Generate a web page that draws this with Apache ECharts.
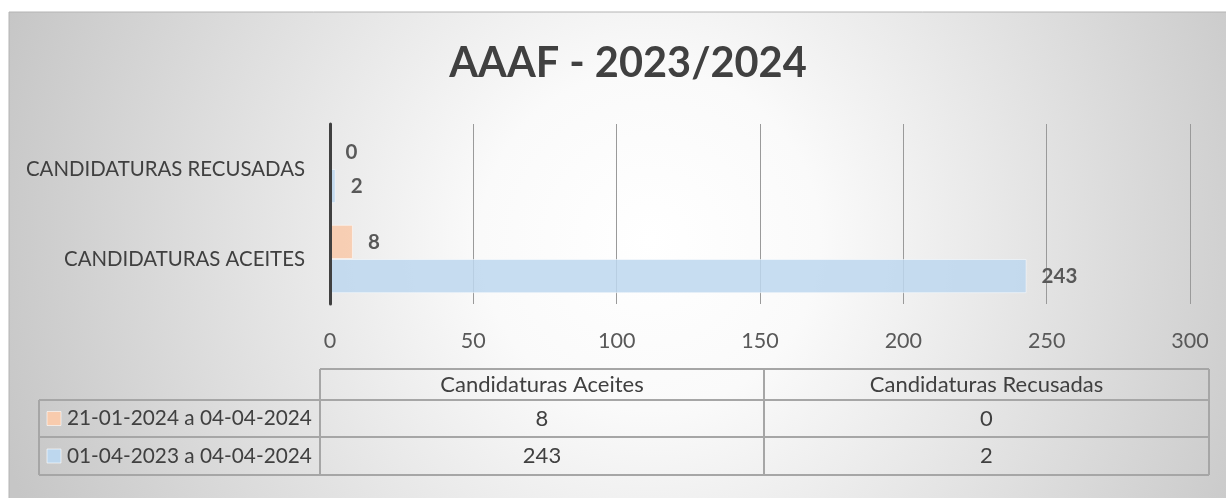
<!DOCTYPE html>
<html>
<head>
<meta charset="utf-8">
<title>AAAF - 2023/2024</title>
<script src="https://cdn.jsdelivr.net/npm/echarts@6/dist/echarts.min.js"></script>
<style>
  html, body { margin: 0; padding: 0; background: #fff; }
  #chart { width: 1226px; height: 498px; }
</style>
</head>
<body>
<div id="chart"></div>
<script>
// dados
const categories = ['Candidaturas Aceites', 'Candidaturas Recusadas']
const seriesNames = ['21-01-2024 a 04-04-2024', '01-04-2023 a 04-04-2024']
const recentValues = [8, 0]
const yearValues = [243, 2]
const seriesColors = ['rgba(248,203,173,0.9)', 'rgba(189,215,238,0.85)']
const keyColors = ['#f8cbad', '#bdd7ee']

const font = 'Lato, Carlito, Calibri, sans-serif'
const textColor = '#404040'

// tabela de dados por baixo do gráfico
const colX = [39, 320, 764, 1209]
const rowY = [369, 400, 437, 475]
const lineStyle = { stroke: '#a6a6a6', lineWidth: 2 }

function tableGraphics() {
  const els = []
  const line = (x1, y1, x2, y2) => els.push({
    type: 'line', shape: { x1, y1, x2, y2 }, style: lineStyle, z: 1
  })
  line(colX[1], rowY[0], colX[3], rowY[0])
  for (let i = 1; i < rowY.length; i++) line(colX[0], rowY[i], colX[3], rowY[i])
  line(colX[0], rowY[1], colX[0], rowY[3])
  for (let i = 1; i < colX.length; i++) line(colX[i], rowY[0], colX[i], rowY[3])

  const cellText = (text, x, y, align, size) => els.push({
    type: 'text', x, y, z: 2,
    style: { text, font: (size || 22) + 'px ' + font, fill: textColor, align: align || 'center', verticalAlign: 'middle' }
  })
  categories.forEach((c, i) => {
    cellText(c, (colX[i + 1] + colX[i + 2]) / 2, (rowY[0] + rowY[1]) / 2)
  })
  const rows = [recentValues, yearValues]
  rows.forEach((vals, r) => {
    const cy = (rowY[r + 1] + rowY[r + 2]) / 2
    els.push({
      type: 'rect', z: 2,
      shape: { x: 47, y: cy - 7, width: 14, height: 14 },
      style: { fill: keyColors[r], stroke: 'rgba(255,255,255,0.6)', lineWidth: 1 }
    })
    cellText(seriesNames[r], 67, cy, 'left', 20.8)
    vals.forEach((v, i) => {
      cellText(String(v), (colX[i + 1] + colX[i + 2]) / 2, cy)
    })
  })
  return els
}

const chart = echarts.init(document.getElementById('chart'))
chart.setOption({
  backgroundColor: '#fff',
  animation: false,
  textStyle: { fontFamily: font },
  title: {
    text: 'AAAF - 2023/2024',
    left: 623,
    top: 38,
    textAlign: 'center',
    textStyle: { fontSize: 41.5, fontWeight: 'bold', color: textColor, fontFamily: font }
  },
  graphic: [
    {
      type: 'rect', z: -10, silent: true,
      shape: { x: 9, y: 12, width: 1240, height: 500 },
      style: {
        stroke: '#b4b4b4', lineWidth: 1,
        fill: {
          type: 'radial', global: true, x: 650, y: 240, r: 680,
          colorStops: [
            { offset: 0, color: '#ffffff' },
            { offset: 0.25, color: '#fafafa' },
            { offset: 1, color: '#c6c6c6' }
          ]
        }
      }
    },
    ...tableGraphics()
  ],
  grid: { left: 330, right: 36, top: 124, bottom: 194, containLabel: false },
  xAxis: {
    type: 'value',
    min: 0,
    max: 300,
    interval: 50,
    axisLine: { show: false },
    axisTick: { show: false },
    splitLine: { lineStyle: { color: '#9a9a9a', width: 1 } },
    axisLabel: { color: '#595959', fontSize: 21.5, margin: 26 }
  },
  yAxis: {
    type: 'category',
    data: categories,
    z: 5,
    axisTick: { show: false },
    axisLine: { lineStyle: { color: '#404040', width: 3 } },
    axisLabel: {
      color: textColor, fontSize: 20.4, margin: 25,
      formatter: v => v.toUpperCase()
    }
  },
  series: [
    {
      name: seriesNames[0],
      type: 'bar',
      data: recentValues,
      barGap: '0%',
      barCategoryGap: '24%',
      itemStyle: { color: seriesColors[0], borderColor: 'rgba(255,255,255,0.5)', borderWidth: 1 },
      label: { show: true, position: 'right', distance: 15, fontSize: 20.5, fontWeight: 'bold', color: '#595959' }
    },
    {
      name: seriesNames[1],
      type: 'bar',
      data: yearValues,
      barGap: '0%',
      barCategoryGap: '24%',
      itemStyle: { color: seriesColors[1], borderColor: 'rgba(255,255,255,0.5)', borderWidth: 1 },
      label: { show: true, position: 'right', distance: 15, fontSize: 20.5, fontWeight: 'bold', color: '#595959' }
    }
  ]
})
</script>
</body>
</html>
